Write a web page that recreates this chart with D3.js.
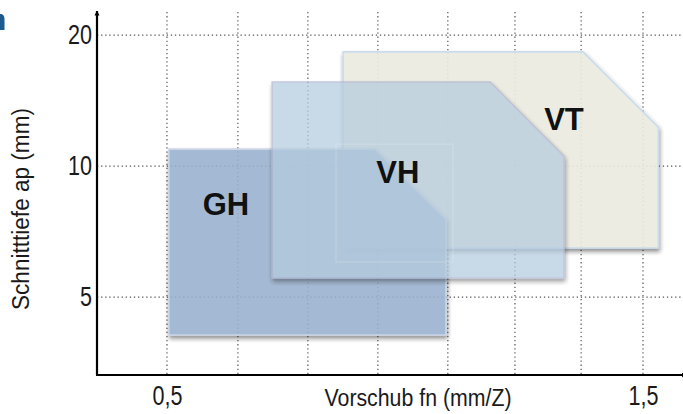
<!DOCTYPE html>
<html>
<head>
<meta charset="utf-8">
<script src="https://cdn.jsdelivr.net/npm/d3@7"></script>
<style>
  body { margin: 0; background: #fff; }
  text { font-family: "Liberation Sans", Arial, sans-serif; }
</style>
</head>
<body>
<div id="chart"></div>
<script>
// Operating ranges (feed fn in mm/Z, depth of cut ap in mm)
const categories = ["VT", "GH", "VH"];
const fnMin = [0.870, 0.504, 0.721];
const fnMax = [1.532, 1.086, 1.334];
const fnChamfer = [1.374, 0.937, 1.179];
const apMin = [6.48, 4.09, 5.53];
const apMax = [18.3, 10.94, 15.6];
const apChamfer = [12.29, 7.55, 10.54];
const labelFn = [1.334, 0.624, 0.985];
const labelAp = [12.82, 8.18, 9.69];

// Axis ticks and grid
const xTicks = [0.5, 1.5];
const yTicks = [5, 10, 20];
const xGrid = [0.5, 0.649, 0.796, 0.943, 1.09, 1.231, 1.37, 1.5];
const yGrid = [5, 10, 20];

const fills = ["#ecebdf", "#98b0cd", "#b5ccdf"];
const strokes = ["#c6d9ea", "#c4d0e2", "#b0b6d2"];
const opac = [0.9, 0.88, 0.74];

const W = 683, H = 414;
const margin = { top: 12, right: 0, bottom: 39, left: 97 };
const width = W - margin.left - margin.right;
const height = H - margin.top - margin.bottom;

const svg = d3.select("#chart").append("svg")
    .attr("width", W).attr("height", H);

const defs = svg.append("defs");
defs.append("filter").attr("id", "shadow")
    .attr("x", "-10%").attr("y", "-10%").attr("width", "130%").attr("height", "130%")
  .append("feDropShadow")
    .attr("dx", 1).attr("dy", 3).attr("stdDeviation", 2)
    .attr("flood-color", "#222").attr("flood-opacity", 0.55);

defs.append("marker").attr("id", "arrow")
    .attr("viewBox", "0 0 10 10").attr("refX", 9).attr("refY", 5)
    .attr("markerWidth", 5).attr("markerHeight", 6)
    .attr("markerUnits", "userSpaceOnUse")
    .attr("orient", "auto")
  .append("path").attr("d", "M0,0 L10,5 L0,10 Z").attr("fill", "#000");

const g = svg.append("g").attr("transform", `translate(${margin.left},${margin.top})`);

const x = d3.scaleLinear().domain([0.353, 1.584]).range([0, width]);
const y = d3.scaleLog().domain([3.31, 22.6]).range([height, 0]);

// Dotted grid
g.selectAll(".vgrid").data(xGrid).enter().append("line")
    .attr("x1", d => x(d)).attr("x2", d => x(d))
    .attr("y1", 0).attr("y2", height)
    .attr("stroke", "#555").attr("stroke-width", 1.2)
    .attr("stroke-dasharray", "1.3,2.8");
g.selectAll(".hgrid").data(yGrid).enter().append("line")
    .attr("x1", 0).attr("x2", width)
    .attr("y1", d => y(d)).attr("y2", d => y(d))
    .attr("stroke", "#555").attr("stroke-width", 1.2)
    .attr("stroke-dasharray", "1.3,2.8");

// Range shapes with chamfered top-right corner
categories.forEach((c, i) => {
  const pts = [
    [x(fnMin[i]), y(apMin[i])],
    [x(fnMin[i]), y(apMax[i])],
    [x(fnChamfer[i]), y(apMax[i])],
    [x(fnMax[i]), y(apChamfer[i])],
    [x(fnMax[i]), y(apMin[i])]
  ];
  const sg = g.append("g").attr("opacity", opac[i]);
  sg.append("path")
      .attr("d", "M" + pts.join("L") + "Z")
      .attr("fill", fills[i])
      .attr("stroke", strokes[i])
      .attr("stroke-width", 1.6)
      .attr("filter", "url(#shadow)");
});

// faint inner highlight of VH
g.append("rect")
    .attr("x", x(0.855)).attr("y", y(11.23))
    .attr("width", x(1.101) - x(0.855)).attr("height", y(6.02) - y(11.23))
    .attr("fill", "none").attr("stroke", "#fff").attr("stroke-opacity", 0.14)
    .attr("stroke-width", 1.5);

// Labels
g.selectAll(".lbl").data(categories).enter().append("text")
    .attr("x", (d, i) => x(labelFn[i]))
    .attr("y", (d, i) => y(labelAp[i]))
    .attr("dy", "0.36em")
    .attr("text-anchor", "middle")
    .style("font-weight", "bold")
    .style("font-size", "31px")
    .attr("fill", "#111")
    .text(d => d);

// Axes (narrow light type squeezed via textLength)
const yAxis = g.append("g")
    .call(d3.axisLeft(y).tickValues(yTicks).tickSize(0).tickPadding(5).tickFormat(d3.format("d")));
const xAxis = g.append("g").attr("transform", `translate(0,${height})`)
    .call(d3.axisBottom(x).tickValues(xTicks).tickSize(0).tickPadding(11)
      .tickFormat(d => String(d).replace(".", ",")));
[yAxis, xAxis].forEach(a => {
  a.select(".domain").remove();
  a.selectAll("text")
      .style("font-family", "'Liberation Sans', Arial, sans-serif")
      .style("font-size", "27px").attr("fill", "#1a1a1a")
      .attr("lengthAdjust", "spacingAndGlyphs")
      .attr("textLength", function () {
        const s = this.textContent;
        return s.replace(/,/g, "").length * 12 + (s.split(",").length - 1) * 6;
      });
});

g.append("line")
    .attr("x1", 0).attr("x2", 0).attr("y1", height).attr("y2", -1)
    .attr("stroke", "#000").attr("stroke-width", 2.2).attr("marker-end", "url(#arrow)");
g.append("line")
    .attr("x1", -1).attr("x2", width + 3).attr("y1", height).attr("y2", height)
    .attr("stroke", "#000").attr("stroke-width", 2.2).attr("marker-end", "url(#arrow)");

// Axis titles
svg.append("text")
    .attr("x", 418).attr("y", 406)
    .attr("text-anchor", "middle")
    .style("font-size", "23px").attr("fill", "#1a1a1a")
    .attr("lengthAdjust", "spacingAndGlyphs").attr("textLength", 187)
    .text("Vorschub fn (mm/Z)");
svg.append("text")
    .attr("transform", "translate(29,209) rotate(-90)")
    .attr("text-anchor", "middle")
    .style("font-size", "23px").attr("fill", "#1a1a1a")
    .attr("lengthAdjust", "spacingAndGlyphs").attr("textLength", 202)
    .text("Schnitttiefe ap (mm)");

// cut-off heading fragment at the top left edge
svg.append("path")
    .attr("d", "M0,14 L1.5,14 Q4.5,15 4.5,19 L4.5,30 L0,30 Z")
    .attr("fill", "#1b5b8f");
</script>
</body>
</html>
